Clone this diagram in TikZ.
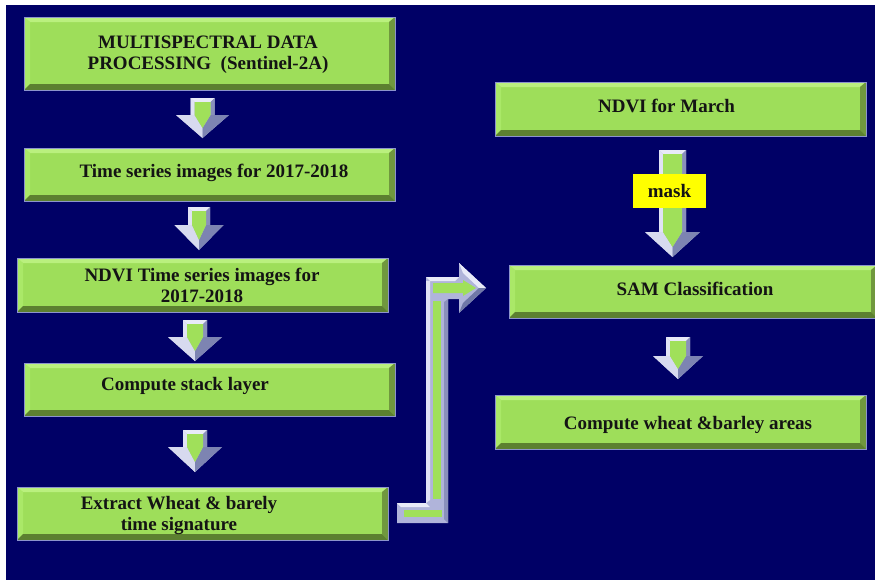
\documentclass[tikz,border=0pt]{standalone}
\usepackage{fontspec}
\setmainfont{Liberation Serif}
\definecolor{navy}{RGB}{0,0,102}
\definecolor{gmain}{RGB}{158,222,90}
\definecolor{gtop}{RGB}{186,240,126}
\definecolor{gleft}{RGB}{170,232,104}
\definecolor{gright}{RGB}{112,152,62}
\definecolor{gbot}{RGB}{92,128,48}
\definecolor{edgelav}{RGB}{140,148,204}
\definecolor{txtc}{RGB}{20,20,20}
\definecolor{slight}{RGB}{232,234,248}
\definecolor{smid}{RGB}{176,180,218}
\definecolor{sdark}{RGB}{112,120,168}
\definecolor{agreen}{RGB}{160,224,90}
\definecolor{maskyel}{RGB}{255,255,0}
\newcommand\darr[6]{%
  \fill[smid] ({#1-#5},{#2}) -- ({#1+#5},{#2}) -- ({#1+#5},{#3}) -- ({#1+#6},{#3}) -- ({#1},{#4}) -- ({#1-#6},{#3}) -- ({#1-#5},{#3}) -- cycle;
  \fill[slight] ({#1-#5},{#2}) -- ({#1+#5},{#2}) -- ({#1+#5-4},{#2+4}) -- ({#1-#5+4},{#2+4}) -- cycle;
  \fill[slight!85!smid] ({#1-#5},{#2}) -- ({#1-#5+4},{#2+4}) -- ({#1-#5+4},{#3}) -- ({#1-#5},{#3}) -- cycle;
  \fill[sdark!60!smid] ({#1+#5},{#2}) -- ({#1+#5-4},{#2+4}) -- ({#1+#5-4},{#3}) -- ({#1+#5},{#3}) -- cycle;
  \fill[slight!70!smid] ({#1-#6},{#3}) -- ({#1-#5+4},{#3}) -- ({#1},{#4-10}) -- ({#1},{#4}) -- cycle;
  \fill[sdark!80!smid] ({#1+#6},{#3}) -- ({#1+#5-4},{#3}) -- ({#1},{#4-10}) -- ({#1},{#4}) -- cycle;
  \fill[agreen] ({#1-#5+4},{#2+4}) -- ({#1+#5-4},{#2+4}) -- ({#1+#5-4},{#3}) -- ({#1},{#4-10}) -- ({#1-#5+4},{#3}) -- cycle;
}
\begin{document}
\begin{tikzpicture}[x=1pt,y=-1pt,
  bx/.style={draw=edgelav, line width=1pt, fill=gmain, inner sep=0pt, outer sep=0pt,
    path picture={
      \coordinate (pnw) at (path picture bounding box.north west);
      \coordinate (pne) at (path picture bounding box.north east);
      \coordinate (psw) at (path picture bounding box.south west);
      \coordinate (pse) at (path picture bounding box.south east);
      \fill[gtop] (pnw) -- (pne) -- ([xshift=-6pt,yshift=-5pt]pne) -- ([xshift=6pt,yshift=-5pt]pnw) -- cycle;
      \fill[gleft] (pnw) -- ([xshift=6pt,yshift=-5pt]pnw) -- ([xshift=6pt,yshift=6pt]psw) -- (psw) -- cycle;
      \fill[gright] (pne) -- ([xshift=-6pt,yshift=-5pt]pne) -- ([xshift=-6pt,yshift=6pt]pse) -- (pse) -- cycle;
      \fill[gbot] (psw) -- ([xshift=6pt,yshift=6pt]psw) -- ([xshift=-6pt,yshift=6pt]pse) -- (pse) -- cycle;
    }},
  lbl/.style={font=\bfseries\fontsize{19}{21}\selectfont, text=txtc, align=center, inner sep=0pt}]
\useasboundingbox (0,0) rectangle (875,581);
\fill[white] (0,0) rectangle (875,581);
\fill[navy] (6,5) rectangle (875,580);

% left column boxes
\node[bx, minimum width=371pt, minimum height=73pt] (b1) at (209.5,53.5) {};
\node[bx, minimum width=371pt, minimum height=53pt] (b2) at (209.5,174.5) {};
\node[bx, minimum width=371pt, minimum height=54pt] (b3) at (202.5,285) {};
\node[bx, minimum width=371pt, minimum height=53pt] (b4) at (209.5,389.5) {};
\node[bx, minimum width=371pt, minimum height=53pt] (b5) at (202.5,513.5) {};
% right column boxes
\node[bx, minimum width=371pt, minimum height=54pt] (r1) at (680.5,109) {};
\node[bx, minimum width=368pt, minimum height=53pt] (r2) at (693,291.5) {};
\node[bx, minimum width=371pt, minimum height=54pt] (r3) at (680.5,422) {};

% texts
\node[lbl] (t1) at (208,55) {MULTISPECTRAL DATA\\PROCESSING\ \ (Sentinel-2A)};
\node[lbl] (t2) at (214,173) {Time series images for 2017-2018};
\node[lbl] (t3) at (202,285) {NDVI Time series images for\\2017-2018};
\node[lbl] (t4) at (185,386) {Compute stack layer};
\node[lbl] (t5) at (179,515) {Extract Wheat \& barely\\time signature};
\node[lbl] (t6) at (666.5,106) {NDVI for March};
\node[lbl] (t7) at (695,289) {SAM Classification};
\node[lbl] (t8) at (688,425) {Compute wheat \&barley areas};

% down arrows
\darr{202.5}{98}{115}{138}{12}{26.5}
\darr{199}{207}{225}{250}{11}{24.5}
\darr{195}{320}{337}{361}{12}{27}
\darr{195}{430}{447}{472}{12}{27}
\darr{678}{337}{356}{379}{12}{25}
\darr{672.5}{150}{232}{257}{13.5}{27.5}

% mask label
\node[fill=maskyel, minimum width=73pt, minimum height=34pt, inner sep=0pt, text=txtc,
  font=\bfseries\fontsize{19}{21}\selectfont] (mask) at (669.5,191) {mask};

% elbow arrow from b5 to r2
\fill[smid] (397,503) -- (426,503) -- (426,277) -- (459,277) -- (459,263) -- (486,288) -- (459,313) -- (459,299) -- (448,299) -- (448,523) -- (397,523) -- cycle;
\fill[slight] (397,503) -- (426,503) -- (430,507) -- (401,507) -- cycle;
\fill[slight] (426,277) -- (459,277) -- (455,281) -- (430,281) -- cycle;
\fill[slight!85!smid] (426,281) -- (430,281) -- (430,500) -- (426,503) -- cycle;
\fill[sdark!60!smid] (444,302) -- (448,299) -- (448,523) -- (444,519) -- cycle;
\fill[slight] (459,263) -- (486,288) -- (479,288) -- (463,273) -- cycle;
\fill[sdark] (459,313) -- (486,288) -- (479,288) -- (463,303) -- cycle;
\fill[agreen] (404,510) rectangle (442,517);
\fill[agreen] (433,301) rectangle (441,499);
\fill[agreen] (433,283) -- (463,283) -- (463,280) -- (476,288) -- (463,296) -- (463,293) -- (433,293) -- cycle;
\end{tikzpicture}
\end{document}
